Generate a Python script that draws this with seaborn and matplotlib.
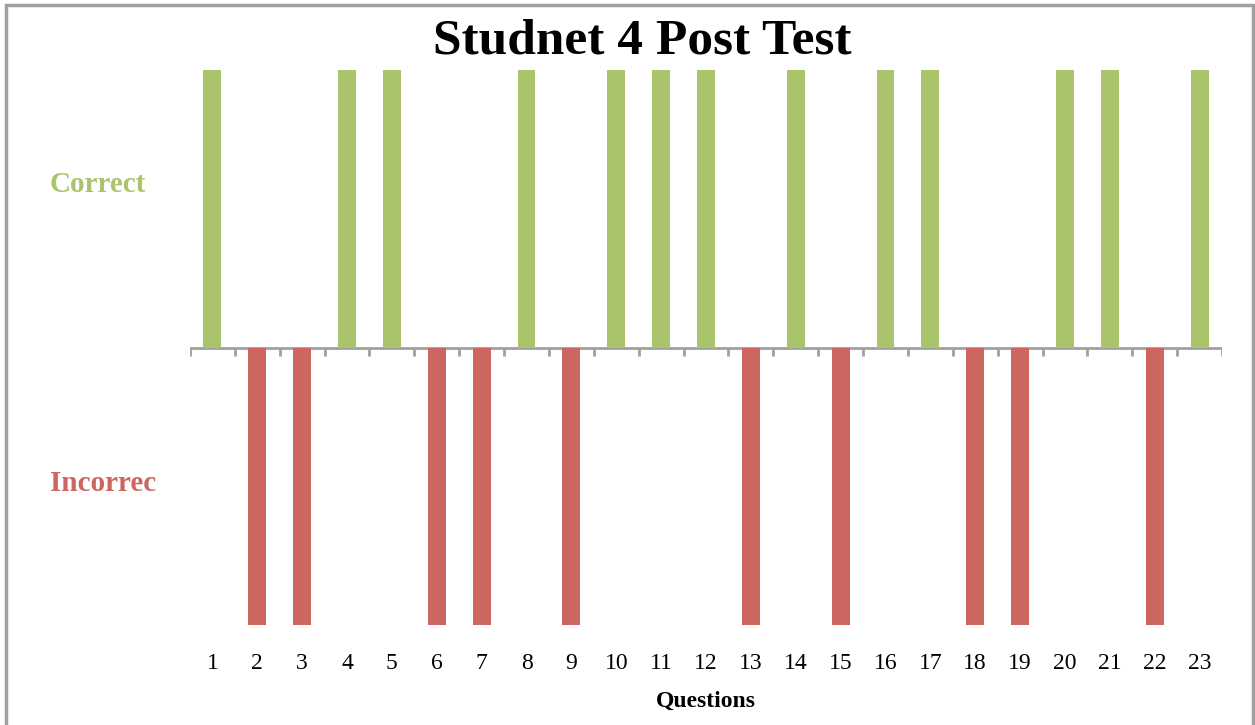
import numpy as np
import pandas as pd
import seaborn as sns
import matplotlib.pyplot as plt
from matplotlib.patches import Rectangle

# datos del gráfico
questions = [str(i) for i in range(1, 24)]
results = ["Correct", "Incorrect", "Incorrect", "Correct", "Correct", "Incorrect",
           "Incorrect", "Correct", "Incorrect", "Correct", "Correct", "Correct",
           "Incorrect", "Correct", "Incorrect", "Correct", "Correct", "Incorrect",
           "Incorrect", "Correct", "Correct", "Incorrect", "Correct"]
scores = [1 if r == "Correct" else -1 for r in results]
ylabels = ["Correct", "Incorrec"]

green = "#A9C46A"
red = "#CD6660"

df = pd.DataFrame({"question": questions, "score": scores, "result": results})

sns.set_style("white")
plt.rcParams["font.family"] = ["Liberation Serif", "DejaVu Serif"]
plt.rcParams["text.color"] = "black"
plt.rcParams["xtick.color"] = "black"

fig = plt.figure(figsize=(12.55, 7.25), dpi=100)
ax = fig.add_axes([190 / 1255, 100 / 725, 1032 / 1255, 555 / 725])

sns.barplot(data=df, x="question", y="score", hue="result",
            palette={"Correct": green, "Incorrect": red}, saturation=1,
            width=0.4, dodge=False, legend=False, ax=ax, zorder=3, linewidth=0)

ax.set_ylim(-1, 1)
ax.set_xlim(-0.5, len(questions) - 0.5)

# eje en cero con marcas entre categorías
ax.axhline(0, color="#A0A0A0", lw=2, zorder=2)
ax.vlines(np.arange(-0.5, len(questions)), -0.032, 0, color="#A0A0A0", lw=2, zorder=2)

for s in ax.spines.values():
    s.set_visible(False)

ax.set_yticks([0.6, -0.48])
ax.set_yticklabels(ylabels, fontsize=21, fontweight="bold", ha="left")
ax.get_yticklabels()[0].set_color(green)
ax.get_yticklabels()[1].set_color(red)
ax.tick_params(axis="y", length=0, pad=101)
ax.tick_params(axis="x", length=0, labelsize=17, pad=20)

ax.set_xlabel("Questions", fontsize=17, fontweight="bold", labelpad=12, color="black")
ax.set_ylabel("")
fig.text(642 / 1255, 1 - 42 / 725, "Studnet 4 Post Test", fontsize=37, fontweight="bold",
         ha="center", va="center", color="black")

# borde del gráfico
fig.patches.append(Rectangle((6 / 1255, -0.05), 1247 / 1255, 1 - 5 / 725 + 0.05,
                             transform=fig.transFigure, fill=False,
                             edgecolor="#A0A0A0", lw=2.5))

fig.savefig("out.png", dpi=100)
